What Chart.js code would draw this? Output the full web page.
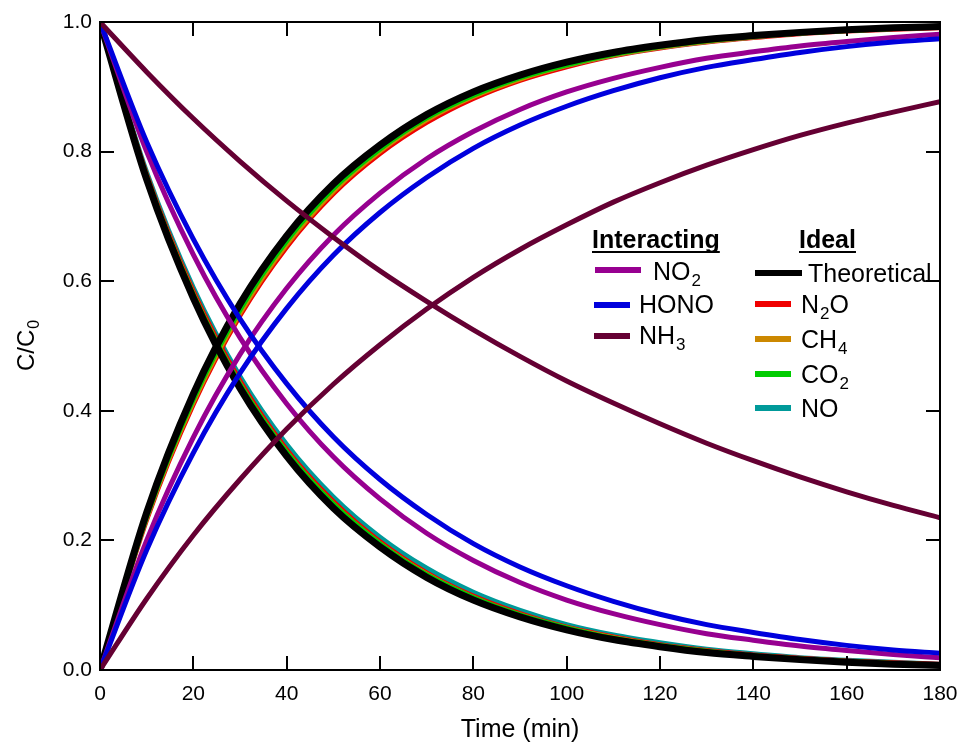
<!DOCTYPE html>
<html>
<head>
<meta charset="utf-8">
<script src="https://cdn.jsdelivr.net/npm/chart.js@4"></script>
<style>
    html, body { margin: 0; padding: 0; background: #fff; }
    #wrap { width: 961px; height: 742px; }
</style>
</head>
<body>
<div id="wrap"><canvas id="decayChart" width="961" height="742"></canvas></div>
<script>
// time axis (min)
const times = [0, 10, 20, 30, 40, 50, 60, 70, 80, 90, 100, 110, 120, 130, 140, 150, 160, 170, 180];
const xTicks = [0, 20, 40, 60, 80, 100, 120, 140, 160, 180];
const yTicks = [0, 0.2, 0.4, 0.6, 0.8, 1.0];

// Ideal species (decay + growth)
const theoDecay = [1, 0.757, 0.574, 0.435, 0.33, 0.25, 0.19, 0.143, 0.108, 0.082, 0.062, 0.047, 0.036, 0.027, 0.021, 0.016, 0.012, 0.009, 0.007];
const theoRise = [0, 0.243, 0.426, 0.565, 0.67, 0.75, 0.81, 0.857, 0.892, 0.918, 0.938, 0.953, 0.964, 0.973, 0.979, 0.984, 0.988, 0.991, 0.993];
const n2oDecay = [1, 0.764, 0.584, 0.446, 0.34, 0.26, 0.198, 0.15, 0.114, 0.087, 0.066, 0.051, 0.039, 0.03, 0.023, 0.018, 0.014, 0.011, 0.009];
const n2oRise = [0, 0.232, 0.41, 0.547, 0.653, 0.735, 0.797, 0.845, 0.882, 0.91, 0.931, 0.948, 0.96, 0.969, 0.976, 0.982, 0.986, 0.989, 0.991];
const ch4Decay = [1, 0.761, 0.58, 0.441, 0.336, 0.256, 0.195, 0.148, 0.112, 0.085, 0.065, 0.05, 0.038, 0.029, 0.022, 0.017, 0.013, 0.01, 0.008];
const ch4Rise = [0, 0.235, 0.414, 0.551, 0.657, 0.739, 0.801, 0.849, 0.885, 0.912, 0.933, 0.949, 0.961, 0.97, 0.977, 0.983, 0.987, 0.99, 0.992];
const co2Decay = [1, 0.761, 0.579, 0.441, 0.336, 0.256, 0.195, 0.147, 0.112, 0.085, 0.065, 0.049, 0.038, 0.029, 0.022, 0.017, 0.013, 0.01, 0.008];
const co2Rise = [0, 0.237, 0.418, 0.556, 0.662, 0.743, 0.804, 0.852, 0.887, 0.914, 0.934, 0.95, 0.962, 0.971, 0.978, 0.983, 0.987, 0.99, 0.992];
const noDecay = [1, 0.768, 0.59, 0.453, 0.348, 0.267, 0.205, 0.157, 0.12, 0.092, 0.07, 0.054, 0.042, 0.032, 0.025, 0.019, 0.015, 0.012, 0.009];
const noRise = [0, 0.236, 0.416, 0.553, 0.659, 0.741, 0.802, 0.85, 0.886, 0.913, 0.933, 0.949, 0.961, 0.97, 0.977, 0.983, 0.987, 0.99, 0.992];

// Interacting species
const no2Decay = [1, 0.80, 0.641, 0.513, 0.411, 0.329, 0.264, 0.211, 0.169, 0.135, 0.108, 0.087, 0.07, 0.056, 0.046, 0.037, 0.03, 0.024, 0.019];
const no2Rise = [0, 0.20, 0.359, 0.487, 0.589, 0.671, 0.736, 0.789, 0.831, 0.865, 0.892, 0.913, 0.93, 0.944, 0.954, 0.963, 0.97, 0.976, 0.981];
const honoDecay = [1, 0.815, 0.665, 0.542, 0.442, 0.36, 0.294, 0.24, 0.195, 0.159, 0.13, 0.106, 0.086, 0.07, 0.058, 0.047, 0.038, 0.031, 0.026];
const honoRise = [0, 0.185, 0.335, 0.458, 0.558, 0.64, 0.706, 0.76, 0.805, 0.841, 0.87, 0.894, 0.914, 0.93, 0.942, 0.953, 0.962, 0.969, 0.974];
const nh3Decay = [1, 0.923, 0.851, 0.785, 0.724, 0.668, 0.616, 0.569, 0.525, 0.484, 0.446, 0.412, 0.38, 0.35, 0.323, 0.298, 0.275, 0.254, 0.235];
const nh3Rise = [0, 0.11, 0.208, 0.294, 0.372, 0.441, 0.502, 0.557, 0.606, 0.649, 0.687, 0.722, 0.752, 0.779, 0.803, 0.825, 0.844, 0.861, 0.877];

// legend entries: [main text, subscript, tail text]
const interactingNames = [['NO', '2', ''], ['HONO', '', ''], ['NH', '3', '']];
const idealNames = [['Theoretical', '', ''], ['N', '2', 'O'], ['CH', '4', ''], ['CO', '2', ''], ['NO', '', '']];

const colors = {
    theo: '#000000',
    n2o: '#f00000',
    ch4: '#cc8800',
    co2: '#00cc00',
    no: '#009a9a',
    no2: '#970090',
    hono: '#0000dd',
    nh3: '#650033'
};

const FONT = '"Liberation Sans", Arial, sans-serif';

function series(values, color, width) {
    return {
        data: times.map((t, i) => ({ x: t, y: values[i] })),
        borderColor: color,
        backgroundColor: color,
        borderWidth: width,
        pointRadius: 0,
        fill: false,
        cubicInterpolationMode: 'monotone'
    };
}

// index 0 is painted last (on top)
const datasets = [
    series(nh3Decay, colors.nh3, 5),
    series(nh3Rise, colors.nh3, 5),
    series(honoDecay, colors.hono, 5),
    series(honoRise, colors.hono, 5),
    series(no2Decay, colors.no2, 5),
    series(no2Rise, colors.no2, 5),
    series(theoDecay, colors.theo, 7),
    series(theoRise, colors.theo, 7),
    series(co2Decay, colors.co2, 5),
    series(co2Rise, colors.co2, 5),
    series(ch4Decay, colors.ch4, 5),
    series(ch4Rise, colors.ch4, 5),
    series(noRise, colors.no, 5),
    series(n2oDecay, colors.n2o, 5),
    series(n2oRise, colors.n2o, 5),
    series(noDecay, colors.no, 5)
];

function subText(ctx, x, y, parts, size, bold) {
    const w = bold ? 'bold ' : '';
    ctx.font = w + size + 'px ' + FONT;
    ctx.fillText(parts[0], x, y);
    x += ctx.measureText(parts[0]).width;
    if (parts[1]) {
        const ss = Math.round(size * 0.66);
        ctx.font = w + ss + 'px ' + FONT;
        ctx.fillText(parts[1], x + 1, y + size * 0.22);
        x += ctx.measureText(parts[1]).width + 1;
        ctx.font = w + size + 'px ' + FONT;
    }
    if (parts[2]) {
        ctx.fillText(parts[2], x, y);
        x += ctx.measureText(parts[2]).width;
    }
    return x;
}

const framePlugin = {
    id: 'frame',
    afterDraw(chart) {
        const ctx = chart.ctx;
        const a = chart.chartArea;
        const xs = chart.scales.x, ys = chart.scales.y;
        ctx.save();
        ctx.strokeStyle = '#000';
        ctx.lineWidth = 2;
        ctx.strokeRect(a.left, a.top, a.right - a.left, a.bottom - a.top);
        // inward ticks on all four sides
        const tl = 14;
        ctx.beginPath();
        xTicks.forEach(v => {
            const px = Math.round(xs.getPixelForValue(v));
            ctx.moveTo(px, a.bottom); ctx.lineTo(px, a.bottom - tl);
            ctx.moveTo(px, a.top); ctx.lineTo(px, a.top + tl);
        });
        yTicks.forEach(v => {
            const py = Math.round(ys.getPixelForValue(v));
            ctx.moveTo(a.left, py); ctx.lineTo(a.left + tl, py);
            ctx.moveTo(a.right, py); ctx.lineTo(a.right - tl, py);
        });
        ctx.stroke();

        ctx.fillStyle = '#000';
        ctx.textBaseline = 'alphabetic';
        ctx.textAlign = 'left';

        // x title
        ctx.font = '25px ' + FONT;
        const xt = 'Time (min)';
        const xw = ctx.measureText(xt).width;
        ctx.fillText(xt, (a.left + a.right) / 2 - xw / 2, 737);

        // y title, rotated
        ctx.save();
        ctx.translate(34, (a.top + a.bottom) / 2);
        ctx.rotate(-Math.PI / 2);
        ctx.font = '24px ' + FONT;
        const w1 = ctx.measureText('C/C').width;
        ctx.font = '16px ' + FONT;
        const w2 = ctx.measureText('0').width;
        subText(ctx, -(w1 + w2) / 2, 0, ['C/C', '0', ''], 24, false);
        ctx.restore();

        // legend
        const hdrY = 248;
        ctx.font = 'bold 25px ' + FONT;
        [['Interacting', 592], ['Ideal', 799]].forEach(([t, x]) => {
            ctx.fillText(t, x, hdrY);
            const w = ctx.measureText(t).width;
            ctx.fillRect(x, hdrY + 3, w, 2);
        });

        const leftLines = [[595, 641, 270, 653, 280], [594, 630, 305, 639, 313], [594, 630, 336, 639, 344]];
        const leftColors = [colors.no2, colors.hono, colors.nh3];
        interactingNames.forEach((p, i) => {
            const r = leftLines[i];
            ctx.fillStyle = leftColors[i];
            ctx.fillRect(r[0], r[2] - 3, r[1] - r[0], 6);
            ctx.fillStyle = '#000';
            subText(ctx, r[3], r[4], p, 25, false);
        });

        const rightLines = [[755, 802, 273, 808, 282], [755, 791, 304, 801, 313], [755, 791, 339, 801, 348],
            [755, 791, 374, 801, 383], [755, 791, 408, 801, 417]];
        const rightColors = [colors.theo, colors.n2o, colors.ch4, colors.co2, colors.no];
        idealNames.forEach((p, i) => {
            const r = rightLines[i];
            ctx.fillStyle = rightColors[i];
            ctx.fillRect(r[0], r[2] - 3, r[1] - r[0], 6);
            ctx.fillStyle = '#000';
            subText(ctx, r[3], r[4], p, 25, false);
        });
        ctx.restore();
    }
};

new Chart(document.getElementById('decayChart'), {
    type: 'line',
    data: { datasets: datasets },
    options: {
        responsive: false,
        animation: false,
        layout: { padding: { left: 0, right: 21, top: 22, bottom: 0 } },
        plugins: {
            legend: { display: false },
            tooltip: { enabled: false }
        },
        scales: {
            x: {
                type: 'linear',
                min: 0,
                max: 180,
                afterFit: function(scale) {
                    scale.height = 72;
                    scale.paddingLeft = 0;
                    scale.paddingRight = 0;
                },
                afterBuildTicks: function(scale) { scale.ticks = xTicks.map(v => ({ value: v })); },
                grid: { display: false, drawTicks: false },
                border: { display: false },
                ticks: {
                    color: '#000',
                    padding: 12,
                    maxRotation: 0,
                    font: { family: FONT, size: 21 }
                }
            },
            y: {
                min: 0,
                max: 1,
                afterFit: function(scale) {
                    scale.width = 100;
                    scale.paddingTop = 0;
                    scale.paddingBottom = 0;
                },
                afterBuildTicks: function(scale) { scale.ticks = yTicks.map(v => ({ value: v })); },
                grid: { display: false, drawTicks: false },
                border: { display: false },
                ticks: {
                    color: '#000',
                    padding: 8,
                    font: { family: FONT, size: 21 },
                    callback: function(value) { return value.toFixed(1); }
                }
            }
        }
    },
    plugins: [framePlugin]
});
</script>
</body>
</html>
